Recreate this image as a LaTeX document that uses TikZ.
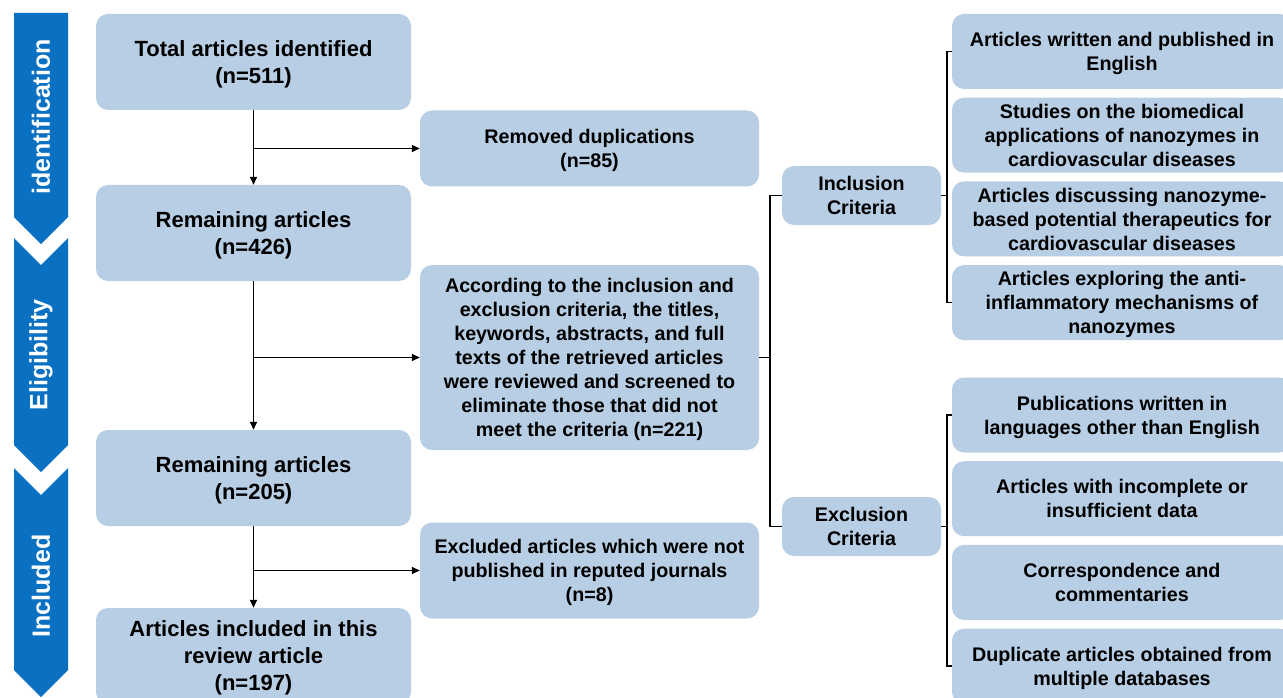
\documentclass[tikz,border=0pt]{standalone}
\usepackage{fontspec}
\setmainfont{Liberation Sans}
\usepackage{xcolor}
\definecolor{bann}{HTML}{0A70C2}
\definecolor{boxf}{HTML}{B8CEE4}
\usetikzlibrary{arrows.meta,positioning,calc}
\tikzset{
  >={Triangle[length=8pt,width=7pt]},
  box/.style={fill=boxf,rounded corners=12pt,inner sep=2pt,align=center,text depth=0pt,
    font=\bfseries\fontsize{19.7}{24}\selectfont,text=black},
  lbox/.style={box,minimum width=315pt,minimum height=96pt,
    font=\bfseries\fontsize{22}{27}\selectfont},
  mbox/.style={box,minimum width=339pt},
  cbox/.style={box,minimum width=159pt,minimum height=59pt},
  rbox/.style={box,minimum width=340pt,minimum height=75pt},
  arr/.style={->,line width=1.6pt},
  brk/.style={line width=1.6pt},
  stage/.style={fill=bann},
  stagetxt/.style={rotate=90,text=white,font=\bfseries\fontsize{25}{30}\selectfont},
}
\begin{document}
\begin{tikzpicture}[x=1pt,y=-1pt]
\useasboundingbox (0,0) rectangle (1283,698);
% stage banners
\fill[stage] (14,13) -- (68,13) -- (68,217) -- (41,244) -- (14,217) -- cycle;
\fill[stage] (14,238) -- (41,265) -- (68,238) -- (68,445) -- (41,472) -- (14,445) -- cycle;
\fill[stage] (14,468) -- (41,495) -- (68,468) -- (68,670) -- (41,697) -- (14,670) -- cycle;
\node[stagetxt] (sid) at (41,117) {identification};
\node[stagetxt] (sel) at (41,355) {Eligibility};
\node[stagetxt] (sinc) at (41,586) {Included};
% main column
\node[lbox] (tot) at (253.5,62) {Total articles identified\\(n=511)};
\node[lbox] (rem1) at (253.5,233) {Remaining articles\\(n=426)};
\node[lbox] (rem2) at (253.5,478) {Remaining articles\\(n=205)};
\node[lbox] (fin) at (253.5,656) {Articles included in this\\review article\\(n=197)};
% removed
\node[mbox,minimum height=76pt] (dup) at (589.5,148.5) {Removed duplications\\(n=85)};
\node[mbox,minimum height=185pt] (scr) at (589.5,357.5) {According to the inclusion and\\exclusion criteria, the titles,\\keywords, abstracts, and full\\texts of the retrieved articles\\were reviewed and screened to\\eliminate those that did not\\meet the criteria (n=221)};
\node[mbox,minimum height=96pt] (jrn) at (589.5,570.5) {Excluded articles which were not\\published in reputed journals\\(n=8)};
\draw[arr] (tot) -- (rem1);
\draw[arr] (rem1) -- (rem2);
\draw[arr] (rem2) -- (fin);
\draw[arr] (tot.south |- dup.west) -- (dup.west);
\draw[arr] (rem1.south |- scr.west) -- (scr.west);
\draw[arr] (rem2.south |- jrn.west) -- (jrn.west);
% criteria
\node[cbox] (incl) at (861.5,195.5) {Inclusion\\Criteria};
\node[cbox] (excl) at (861.5,526.5) {Exclusion\\Criteria};
\draw[brk] (scr.east) -- ++(11,0) coordinate (sk);
\draw[brk] (incl.west) -| (sk) |- (excl.west);
\foreach \t [count=\k] in {{Articles written and published in\\English},
  {Studies on the biomedical\\applications of nanozymes in\\cardiovascular diseases},
  {Articles discussing nanozyme-\\based potential therapeutics for\\cardiovascular diseases},
  {Articles exploring the anti-\\inflammatory mechanisms of\\nanozymes}}
  \node[rbox] (in\k) at (1122,51.5+83.7*\k-83.7) {\t};
\foreach \t [count=\k] in {{Publications written in\\languages other than English},
  {Articles with incomplete or\\insufficient data},
  {Correspondence and\\commentaries},
  {Duplicate articles obtained from\\multiple databases}}
  \node[rbox] (ex\k) at (1122,415+83.7*\k-83.7) {\t};
\draw[brk] (in1.west) -- ++(-5,0) coordinate (ik) |- (in4.west);
\draw[brk] (incl.east) -- (incl.east -| ik);
\draw[brk] (ex1.west) -- ++(-5,0) coordinate (ek) |- (ex4.west);
\draw[brk] (excl.east) -- (excl.east -| ek);
\end{tikzpicture}
\end{document}
